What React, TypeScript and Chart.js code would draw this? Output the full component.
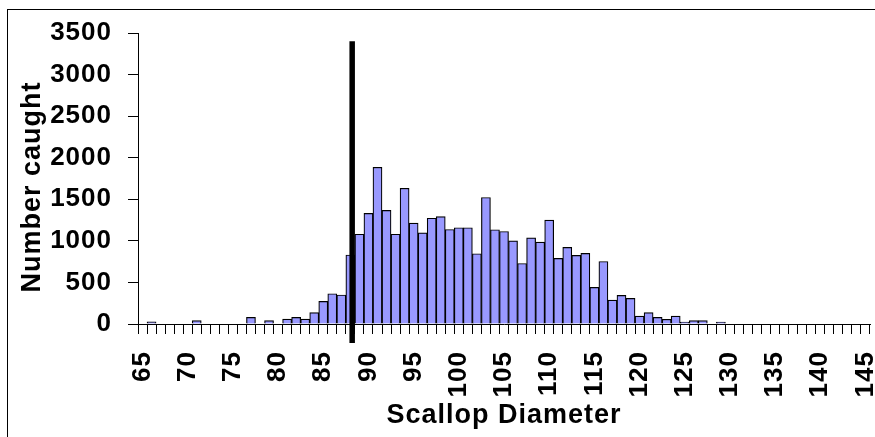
import React, { useEffect, useRef } from "react";
import { Chart, registerables } from "chart.js";

Chart.register(...registerables);

const sizes: number[] = [
  65, 66, 67, 68, 69, 70, 71, 72, 73, 74, 75, 76, 77, 78, 79, 80,
  81, 82, 83, 84, 85, 86, 87, 88, 89, 90, 91, 92, 93, 94, 95, 96,
  97, 98, 99, 100, 101, 102, 103, 104, 105, 106, 107, 108, 109, 110, 111, 112,
  113, 114, 115, 116, 117, 118, 119, 120, 121, 122, 123, 124, 125, 126, 127, 128,
  129, 130, 131, 132, 133, 134, 135, 136, 137, 138, 139, 140, 141, 142, 143, 144, 145,
];

const counts: number[] = [
  0, 25, 0, 0, 0, 0, 40, 0, 0, 0, 0, 0, 80, 0, 40, 0,
  60, 80, 60, 136, 272, 364, 349, 830, 1080, 1330, 1885, 1366, 1080, 1632, 1214, 1097,
  1272, 1291, 1137, 1158, 1158, 845, 1522, 1134, 1113, 1001, 728, 1037, 985, 1250, 789, 921,
  825, 849, 440, 752, 288, 344, 308, 96, 136, 80, 56, 96, 24, 40, 40, 0,
  24, 0, 0, 0, 0, 0, 0, 0, 0, 0, 0, 0, 0, 0, 0, 0, 0,
];

const yTicks: number[] = [0, 500, 1000, 1500, 2000, 2500, 3000, 3500];
const labelEvery = 5;

// vertical cut-off marker (in scallop-diameter units and count units)
const cutoffSize = 88.2;
const cutoffTop = 3400;
const cutoffBottom = -230;

const FONT = "'Liberation Sans', Arial, sans-serif";

const cutoffPlugin = {
  id: "cutoffLine",
  afterDatasetsDraw(chart: any) {
    const { ctx, scales } = chart;
    const x = scales.x.getPixelForValue(cutoffSize - sizes[0]);
    const y1 = scales.y.getPixelForValue(cutoffTop);
    const y2 = scales.y.getPixelForValue(cutoffBottom);
    ctx.save();
    ctx.strokeStyle = "#000";
    ctx.lineWidth = 5.5;
    ctx.lineCap = "butt";
    ctx.beginPath();
    ctx.moveTo(x, y1);
    ctx.lineTo(x, y2);
    ctx.stroke();
    ctx.restore();
  },
};

const setSpacing = (chart: any) => {
  try {
    chart.ctx.letterSpacing = "1px";
  } catch (e) {}
};

const spacingPlugin = {
  id: "letterSpacing",
  beforeInit: setSpacing,
  beforeUpdate: setSpacing,
  beforeLayout: setSpacing,
  beforeDraw: setSpacing,
};

export default function App() {
  const ref = useRef<HTMLCanvasElement | null>(null);

  useEffect(() => {
    if (!ref.current) return;
    const chart = new Chart(ref.current, {
      type: "bar",
      data: {
        labels: sizes.map(String),
        datasets: [
          {
            data: counts,
            backgroundColor: "#9999FF",
            borderColor: "#000000",
            borderWidth: 1.2,
            barPercentage: 1,
            categoryPercentage: 1,
          },
        ],
      },
      options: {
        responsive: false,
        animation: false,
        events: [],
        layout: { padding: { left: 0, right: 5, top: 33, bottom: 0 } },
        plugins: {
          legend: { display: false },
          tooltip: { enabled: false },
        },
        scales: {
          x: {
            offset: true,
            grid: {
              offset: true,
              drawOnChartArea: false,
              drawTicks: true,
              tickLength: 10,
              color: "#000",
              lineWidth: 1,
            },
            border: { display: true, color: "#000", width: 1 },
            ticks: {
              autoSkip: false,
              maxRotation: 90,
              minRotation: 90,
              padding: 17,
              color: "#000",
              font: { family: FONT, size: 26, weight: "bold" },
              callback: (_v: any, i: number) =>
                sizes[i] % labelEvery === 0 ? String(sizes[i]) : "",
            },
            title: {
              display: true,
              text: "Scallop Diameter",
              color: "#000",
              font: { family: FONT, size: 27, weight: "bold" },
              padding: { top: 0, bottom: 5 },
            },
            afterFit(scale: any) {
              scale.height = 113;
              scale.paddingLeft = 0;
              scale.paddingRight = 0;
            },
          },
          y: {
            min: yTicks[0],
            max: yTicks[yTicks.length - 1],
            afterBuildTicks(scale: any) {
              scale.ticks = yTicks.map((v) => ({ value: v }));
            },
            grid: {
              drawOnChartArea: false,
              drawTicks: true,
              tickLength: 10,
              color: "#000",
              lineWidth: 1,
            },
            border: { display: true, color: "#000", width: 1 },
            ticks: {
              padding: 16,
              color: "#000",
              font: { family: FONT, size: 26, weight: "bold" },
              callback: (v: any) => String(v),
            },
            title: {
              display: true,
              text: "Number caught  ",
              color: "#000",
              font: { family: FONT, size: 27, weight: "bold" },
              padding: { top: 16, bottom: 0 },
            },
            afterFit(scale: any) {
              scale.width = 138;
              scale.paddingTop = 0;
              scale.paddingBottom = 0;
            },
          },
        },
      },
      plugins: [spacingPlugin, cutoffPlugin],
    } as any);
    return () => chart.destroy();
  }, []);

  return (
    <div
      style={{
        position: "absolute",
        left: 0,
        top: 0,
        width: 875,
        height: 437,
        overflow: "hidden",
        background: "#fff",
      }}
    >
      <div
        style={{
          position: "absolute",
          left: 7,
          top: 9,
          width: 1000,
          height: 1000,
          border: "1px solid #000",
          boxSizing: "border-box",
        }}
      />
      <canvas
        ref={ref}
        width={875}
        height={437}
        style={{ position: "absolute", left: 0, top: 0, width: 875, height: 437 }}
      />
    </div>
  );
}
